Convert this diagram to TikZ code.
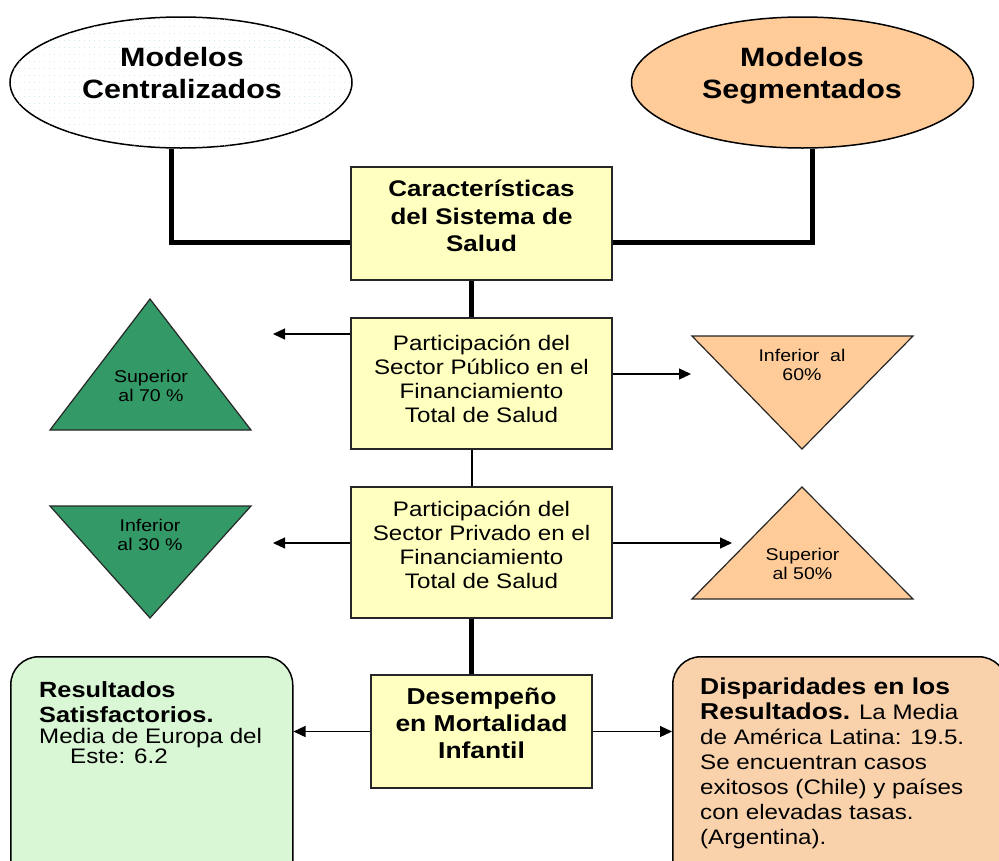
\documentclass[tikz,border=0pt]{standalone}
\usepackage{fontspec}
\setmainfont[FakeStretch=1.15]{Liberation Sans}
\usetikzlibrary{shapes.geometric,arrows.meta,calc,patterns.meta}
\definecolor{boxyellow}{HTML}{FFFFC0}
\definecolor{peach}{HTML}{FFCC99}
\definecolor{trigreen}{HTML}{339966}
\definecolor{lightgreen}{HTML}{D9F7D5}
\definecolor{lightpeach}{HTML}{F9D2AC}
\definecolor{dotcol}{RGB}{190,228,220}
\tikzdeclarepattern{
  name=ovdots,
  type=uncolored,
  bounding box={(0pt,0pt) and (4.7pt,7pt)},
  tile size={(4.7pt,7pt)},
  code={\pgfpathrectangle{\pgfpointorigin}{\pgfpoint{0.8pt}{0.8pt}}\pgfusepath{fill}}
}
\begin{document}
\begin{tikzpicture}[x=1pt,y=-1pt,
  ov/.style={ellipse,draw=black,line width=1.5pt,minimum width=342pt,minimum height=131pt,inner sep=0pt},
  sbox/.style={draw=black!85,line width=1.5pt,fill=boxyellow,inner sep=0pt},
  tri/.style={draw=black!85,line width=1.2pt},
  thk/.style={line width=5pt},
  thn/.style={line width=1.2pt},
  arr/.style={line width=1.2pt,-{Triangle[length=12pt,width=11pt]}},
  rbox/.style={draw=black,line width=1.5pt,rounded corners=28pt,inner sep=0pt,anchor=north west},
  bigtxt/.style={font=\fontsize{26.5}{32}\selectfont\bfseries,align=center,inner sep=0pt},
  boldtxt/.style={font=\fontsize{22.6}{27.5}\selectfont\bfseries,align=center,inner sep=0pt},
  midtxt/.style={font=\fontsize{21}{24}\selectfont,align=center,inner sep=0pt},
  tritxt/.style={font=\fontsize{17}{19}\selectfont,align=center,inner sep=0pt}
]
\useasboundingbox (0,0) rectangle (999,860);
\clip (0,0) rectangle (999,860);
\fill[white] (0,0) rectangle (999,860);

% ellipses
\node[ov,fill=white,postaction={pattern=ovdots,pattern color=dotcol}] (ellL) at (181,82.5) {};
\node[bigtxt] (ellLt) at (182,73.5) {Modelos\\Centralizados};
\node[ov,fill=peach] (ellR) at (802.5,82.5) {};
\node[bigtxt] (ellRt) at (802,76) {Modelos\\Segmentados};

% central boxes
\node[sbox,minimum width=261pt,minimum height=113pt] (b1) at (481.5,223.5) {};
\node[boldtxt] (b1t) at (481.5,216) {Características\\del Sistema de\\Salud};
\node[sbox,minimum width=261pt,minimum height=131pt] (b2) at (481.5,383.5) {};
\node[midtxt] (b2t) at (481.5,379) {Participación del\\Sector Público en el\\Financiamiento\\Total de Salud};
\node[sbox,minimum width=261pt,minimum height=131pt] (b3) at (481.5,552.5) {};
\node[midtxt] (b3t) at (481.5,545) {Participación del\\Sector Privado en el\\Financiamiento\\Total de Salud};
\node[sbox,minimum width=221pt,minimum height=113pt] (b4) at (481.5,731.5) {};
\node[boldtxt,font=\fontsize{23}{27}\selectfont\bfseries] (b4t) at (481.5,723.5) {Desempeño\\en Mortalidad\\Infantil};

% rounded result boxes
\node[rbox,fill=lightgreen,minimum width=282pt,minimum height=260pt] (gbox) at (10,656) {};
\node[rbox,fill=lightpeach,minimum width=334pt,minimum height=260pt] (obox) at (672,656) {};
\node[anchor=north west,align=left,inner sep=0pt,font=\fontsize{21}{20}\selectfont] (gtxt) at (39,681)
  {{\fontsize{22}{20}\selectfont\bfseries Resultados}\\[5pt]{\fontsize{22}{20}\selectfont\bfseries Satisfactorios.}\\[1pt]Media de Europa del\\\hspace*{31pt}Este: 6.2};
\begin{scope}
\clip (0,0) rectangle (999,848);
\node[anchor=north west,align=left,inner sep=0pt,font=\fontsize{21}{25}\selectfont] (otxt) at (700,678)
  {{\fontsize{23}{25}\selectfont\bfseries Disparidades en los}\\{\fontsize{23}{25}\selectfont\bfseries Resultados.} La Media\\de América Latina: 19.5.\\Se encuentran casos\\exitosos (Chile) y países\\con elevadas tasas.\\(Argentina).};
\end{scope}

% triangles
\draw[tri,fill=trigreen] (50,430) -- (150,299) -- (251,430) -- cycle;
\node[tritxt] (t1) at (151,386) {Superior\\al 70 \%};
\draw[tri,fill=trigreen] (50,506) -- (251,506) -- (150,618) -- cycle;
\node[tritxt] (t2) at (150,535) {Inferior\\al 30 \%};
\draw[tri,fill=peach] (692,336) -- (913,336) -- (802,449) -- cycle;
\node[tritxt] (t3) at (802,365) {Inferior\ \ al\\60\%};
\draw[tri,fill=peach] (692,599) -- (802,487) -- (913,599) -- cycle;
\node[tritxt] (t4) at (802.5,563.5) {Superior\\al 50\%};

% thick connectors
\draw[thk] ([xshift=-10pt]ellL.south) |- ([yshift=-18.5pt]b1.west);
\draw[thk] ([xshift=9.5pt]ellR.south) |- ([yshift=-18.5pt]b1.east);
\draw[thk] ([xshift=-10pt]b1.south) -- ([xshift=-10pt]b2.north);
\draw[thn] ([xshift=-9.5pt]b2.south) -- ([xshift=-9.5pt]b3.north);
\draw[thk] ([xshift=-10pt]b3.south) -- ([xshift=-10pt]b4.north);

% arrows
\coordinate (aL2) at (273,334);
\coordinate (aR2) at (691,374);
\coordinate (aL3) at (273,543);
\coordinate (aR3) at (732,543);
\draw[arr] (b2.west |- aL2) -- (aL2);
\draw[arr] (b2.east |- aR2) -- (aR2);
\draw[arr] (b3.west |- aL3) -- (aL3);
\draw[arr] (b3.east |- aR3) -- (aR3);
\draw[arr] (b4.west) -- (b4.west -| gbox.east);
\draw[arr] (b4.east) -- (b4.east -| obox.west);
\end{tikzpicture}
\end{document}
